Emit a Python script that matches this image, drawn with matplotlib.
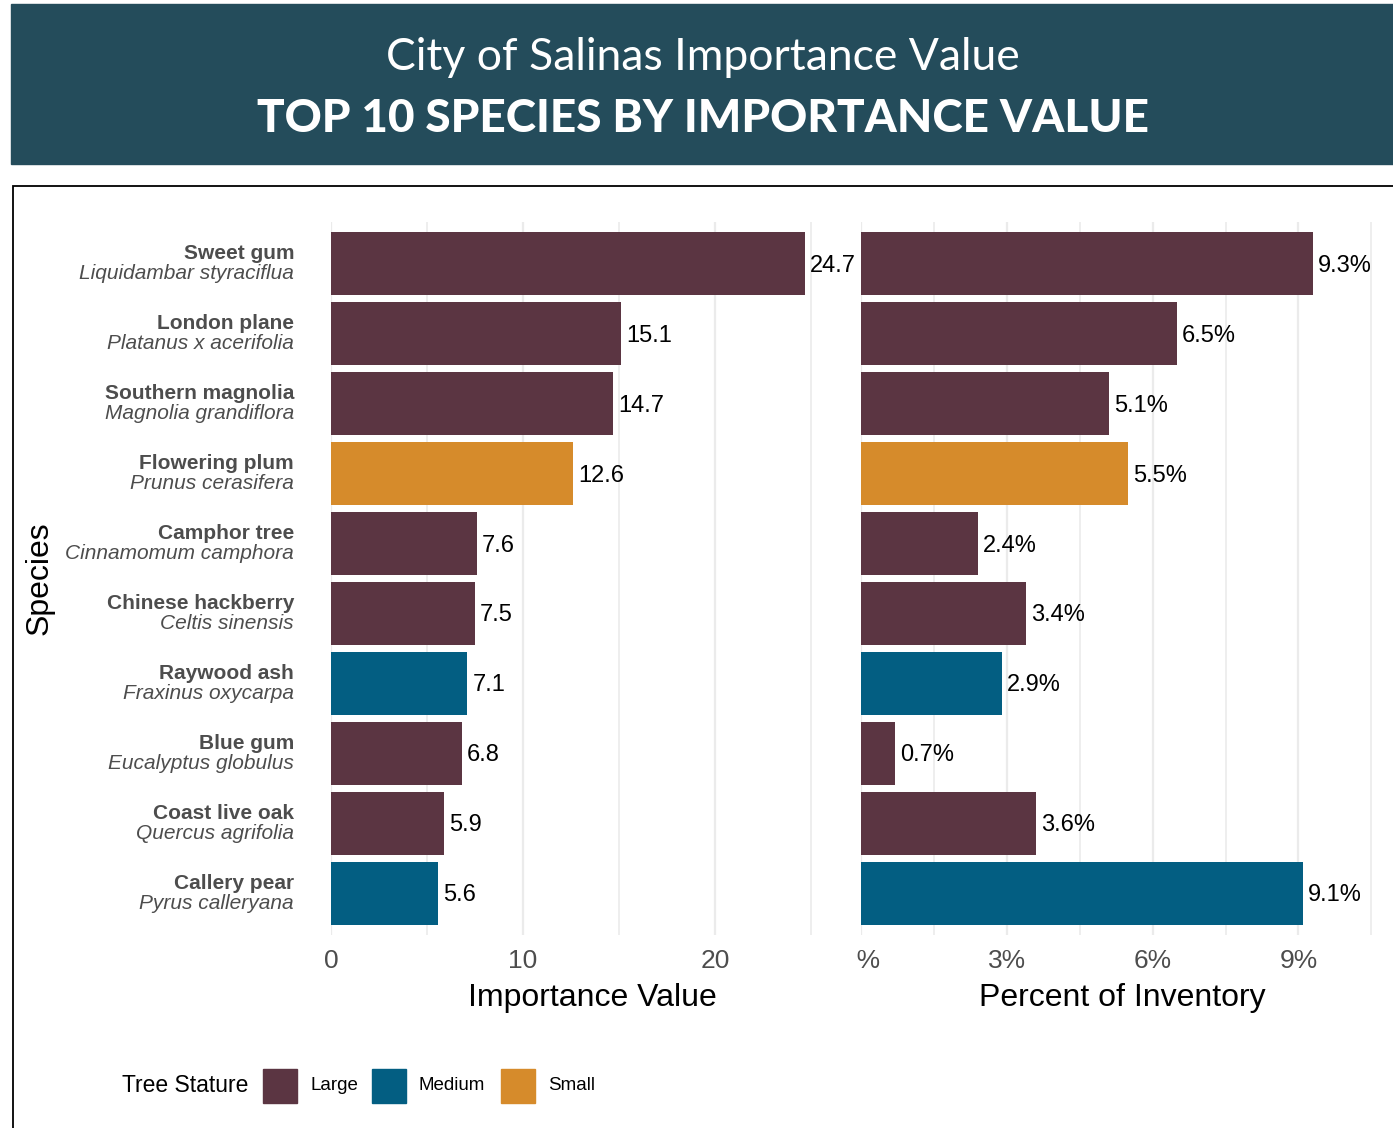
import matplotlib
matplotlib.use("Agg")
import matplotlib.pyplot as plt
from matplotlib.patches import Rectangle
from matplotlib.transforms import offset_copy, blended_transform_factory, Bbox

# Data
common_names = ["Sweet gum", "London plane", "Southern magnolia", "Flowering plum",
                "Camphor tree", "Chinese hackberry", "Raywood ash", "Blue gum",
                "Coast live oak", "Callery pear"]
sci_names = ["Liquidambar styraciflua", "Platanus x acerifolia", "Magnolia grandiflora",
             "Prunus cerasifera", "Cinnamomum camphora", "Celtis sinensis",
             "Fraxinus oxycarpa", "Eucalyptus globulus", "Quercus agrifolia",
             "Pyrus calleryana"]
importance = [24.7, 15.1, 14.7, 12.6, 7.6, 7.5, 7.1, 6.8, 5.9, 5.6]
pct_inventory = [9.3, 6.5, 5.1, 5.5, 2.4, 3.4, 2.9, 0.7, 3.6, 9.1]
stature = ["Large", "Large", "Large", "Small", "Large", "Large", "Medium", "Large",
           "Large", "Medium"]

stature_levels = ["Large", "Medium", "Small"]
stature_colors = {"Large": "#5b3542", "Medium": "#035e82", "Small": "#d68b2b"}

W, H = 1393, 1128
fig = plt.figure(figsize=(W / 100, H / 100), dpi=100)
fig.patch.set_facecolor("white")


def fx(px):
    return px / W


def fy(py):
    return 1 - py / H


# Header band
fig.patches.append(Rectangle((fx(11), fy(164)), fx(W - 11), (164 - 4) / H,
                             transform=fig.transFigure, color="#244c5b", zorder=0))
fig.text(fx(703), fy(58), "City of Salinas Importance Value", ha="center", va="center",
         color="white", fontsize=32, family="Lato", fontweight="normal")
fig.text(fx(703), fy(119), "TOP 10 SPECIES BY IMPORTANCE VALUE", ha="center", va="center",
         color="white", fontsize=33, family="Lato", fontweight="black")

# Border box around chart
fig.patches.append(Rectangle((fx(13), fy(1140)), fx(W + 20), (1140 - 186) / H,
                             transform=fig.transFigure, fill=False, edgecolor="black",
                             linewidth=1.3, zorder=1))

plt.rcParams["font.family"] = ["Liberation Sans", "DejaVu Sans"]

panel_top, panel_bot = 222, 935
ax1 = fig.add_axes([fx(331), fy(panel_bot), fx(853 - 331), (panel_bot - panel_top) / H])
ax2 = fig.add_axes([fx(861), fy(panel_bot), fx(1383 - 861), (panel_bot - panel_top) / H])

rows = list(range(len(common_names)))
colors = [stature_colors[s] for s in stature]


def style_axis(ax, major, minor):
    for sp in ax.spines.values():
        sp.set_visible(False)
    ax.set_ylim(len(rows) - 0.4, -0.6)
    ax.set_yticks([])
    ax.set_xticks(major)
    ax.set_xticks(minor, minor=True)
    ax.grid(True, axis="x", which="major", color="#ebebeb", linewidth=1.6, zorder=0)
    ax.grid(True, axis="x", which="minor", color="#ebebeb", linewidth=1.2, zorder=0)
    ax.tick_params(axis="x", which="both", length=0, pad=10, labelsize=19,
                   labelcolor="#4d4d4d")
    ax.set_axisbelow(True)


# Left panel: importance value
ax1.barh(rows, importance, height=0.9, color=colors, zorder=2)
ax1.set_xlim(0, 27.2)
style_axis(ax1, [0, 10, 20], [5, 15, 25])
ax1.set_xlabel("Importance Value", fontsize=23, labelpad=7, color="black")
lab_tr1 = offset_copy(ax1.transData, fig=fig, x=5, y=-2, units="dots")
for r, v in zip(rows, importance):
    ax1.text(v, r, f"{v:.1f}", transform=lab_tr1, ha="left", va="center",
             fontsize=17, color="black")

# Right panel: percent of inventory
ax2.barh(rows, pct_inventory, height=0.9, color=colors, zorder=2)
ax2.set_xlim(0, 10.74)
style_axis(ax2, [0, 3, 6, 9], [1.5, 4.5, 7.5, 10.5])
ax2.set_xticklabels(["0%", "3%", "6%", "9%"])
ax2.set_xlabel("Percent of Inventory", fontsize=23, labelpad=7, color="black")
lab_tr2 = offset_copy(ax2.transData, fig=fig, x=5, y=-2, units="dots")
for r, v in zip(rows, pct_inventory):
    ax2.text(v, r, f"{v:.1f}%", transform=lab_tr2, ha="left", va="center",
             fontsize=17, color="black")

# First percent tick label is clipped at the panel edge in the original
fig.canvas.draw()
first = ax2.get_xticklabels()[0]
first.set_clip_box(Bbox.from_extents(857, 0, W, H))
first.set_clip_on(True)

# Species labels: common name (bold) above scientific name (italic)
lab_x = blended_transform_factory(fig.transFigure, ax1.transData)
up = offset_copy(lab_x, fig=fig, x=0, y=10, units="dots")
down = offset_copy(lab_x, fig=fig, x=0, y=-10, units="dots")
for r, cn, sn in zip(rows, common_names, sci_names):
    fig.text(fx(294), r, cn, transform=up, ha="right", va="center", fontsize=15,
             fontweight="bold", color="#4d4d4d")
    fig.text(fx(294), r, sn, transform=down, ha="right", va="center", fontsize=15,
             style="italic", color="#4d4d4d")

fig.text(fx(40), fy(578), "Species", rotation=90, ha="center", va="center",
         fontsize=23, color="black")

# Legend
fig.text(fx(122), fy(1086), "Tree Stature", ha="left", va="center", fontsize=16.5,
         color="black")
key_x = [263, 372, 501]
for kx, lvl in zip(key_x, stature_levels):
    fig.patches.append(Rectangle((fx(kx), fy(1103)), fx(34), 34 / H,
                                 transform=fig.transFigure,
                                 color=stature_colors[lvl]))
    fig.text(fx(kx + 47), fy(1086), lvl, ha="left", va="center", fontsize=13.5,
             color="black")

fig.savefig("out.png", dpi=100)
